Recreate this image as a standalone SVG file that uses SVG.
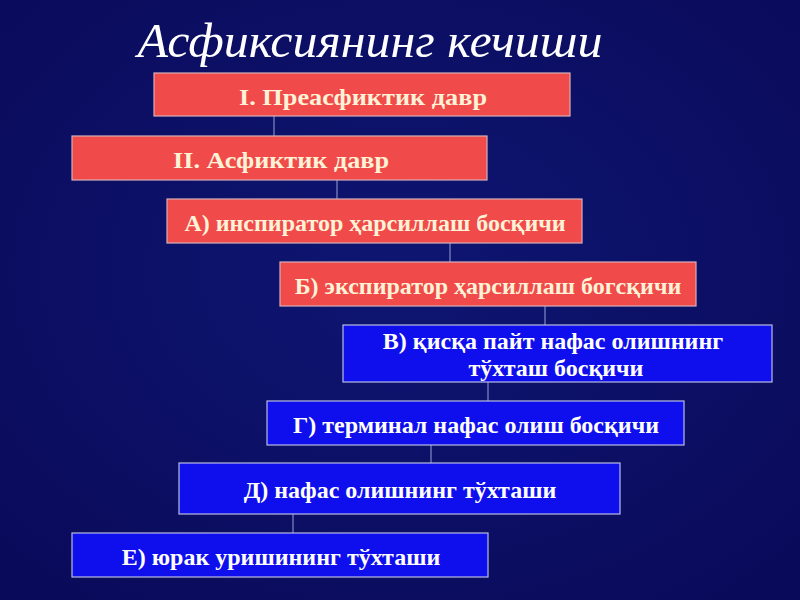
<svg xmlns="http://www.w3.org/2000/svg" width="800" height="600" viewBox="0 0 800 600">
<defs>
<radialGradient id="bg" cx="50%" cy="45%" r="70%">
<stop offset="0" stop-color="#0e1672"/>
<stop offset="1" stop-color="#0a0a5a"/>
</radialGradient>
</defs>
<style>
.red{fill:#f04a4a;stroke:#d8b0b8;stroke-width:1.2}
.blue{fill:#0f0fee;stroke:#b8bce0;stroke-width:1.2}
.tr{font-family:"Liberation Serif",serif;font-weight:bold;font-size:24px;fill:#fff2d6;text-anchor:middle}
.tb{font-family:"Liberation Serif",serif;font-weight:bold;font-size:24px;fill:#ffffff;text-anchor:middle}
.conn line{stroke:#9aa0d8;stroke-width:1}
</style>
<rect width="800" height="600" fill="url(#bg)"/>
<text x="370" y="57" font-family="Liberation Serif,serif" font-style="italic" font-size="48" fill="#ffffff" text-anchor="middle" textLength="465" lengthAdjust="spacingAndGlyphs">Асфиксиянинг кечиши</text>
<g class="conn">
<line x1="274" y1="116" x2="274" y2="136"/>
<line x1="337" y1="180" x2="337" y2="199"/>
<line x1="450" y1="243" x2="450" y2="262"/>
<line x1="545" y1="306" x2="545" y2="325"/>
<line x1="488" y1="382" x2="488" y2="401"/>
<line x1="431" y1="445" x2="431" y2="463"/>
<line x1="293" y1="509" x2="293" y2="533"/>
</g>
<g id="n1"><rect class="red" x="154" y="73" width="416" height="43"/><text class="tr" x="363" y="105" textLength="248" lengthAdjust="spacingAndGlyphs">I. Преасфиктик давр</text></g>
<g id="n2"><rect class="red" x="72" y="136" width="415" height="44"/><text class="tr" x="281" y="168" textLength="216" lengthAdjust="spacingAndGlyphs">II. Асфиктик давр</text></g>
<g id="n3"><rect class="red" x="167" y="199" width="415" height="44"/><text class="tr" x="375" y="231">А) инспиратор ҳарсиллаш босқичи</text></g>
<g id="n4"><rect class="red" x="280" y="262" width="416" height="44"/><text class="tr" x="488" y="294">Б) экспиратор ҳарсиллаш богсқичи</text></g>
<g id="n5"><rect class="blue" x="343" y="325" width="429" height="57"/><text class="tb" x="553" y="349">В) қисқа пайт нафас олишнинг</text><text class="tb" x="556" y="376">тўхташ босқичи</text></g>
<g id="n6"><rect class="blue" x="267" y="401" width="417" height="44"/><text class="tb" x="476" y="433">Г) терминал нафас олиш босқичи</text></g>
<g id="n7"><rect class="blue" x="179" y="463" width="441" height="51"/><text class="tb" x="400" y="498">Д) нафас олишнинг тўхташи</text></g>
<g id="n8"><rect class="blue" x="72" y="533" width="416" height="44"/><text class="tb" x="281" y="565">Е) юрак уришининг тўхташи</text></g>
</svg>
